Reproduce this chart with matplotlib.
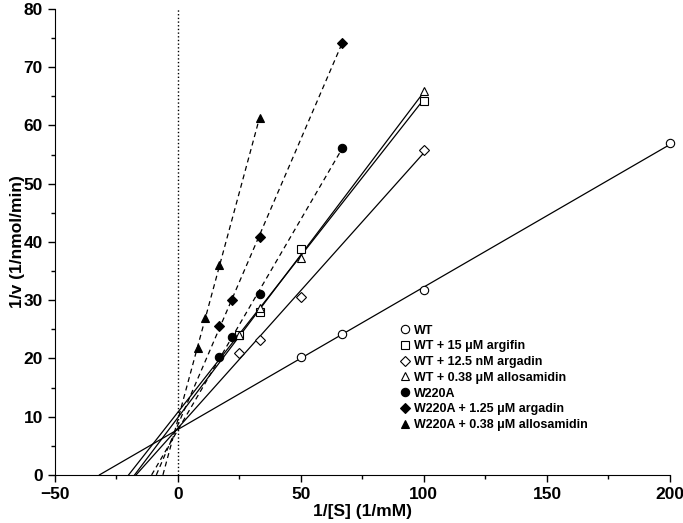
import numpy as np
import matplotlib
matplotlib.use("Agg")
import matplotlib.pyplot as plt

plt.rcParams['font.family'] = ['Liberation Sans', 'DejaVu Sans']
plt.rcParams['font.weight'] = 'bold'

# 1/[S] and 1/v values
wt_x = [50, 66.7, 100, 200]
wt_y = [20.3, 24.2, 31.7, 56.9]
argifin_x = [25, 33.3, 50, 100]
argifin_y = [24.0, 28.0, 38.7, 64.2]
argadin_x = [25, 33.3, 50, 100]
argadin_y = [21.0, 23.2, 30.6, 55.7]
allo_x = [25, 33.3, 50, 100]
allo_y = [24.0, 28.6, 37.2, 65.9]
w220a_x = [16.7, 22.2, 33.3, 66.7]
w220a_y = [20.3, 23.7, 31.0, 56.2]
w220a_arg_x = [16.7, 22.2, 33.3, 66.7]
w220a_arg_y = [25.5, 30.0, 40.8, 74.2]
w220a_allo_x = [8.33, 11.1, 16.7, 33.3]
w220a_allo_y = [21.8, 27.0, 36.0, 61.2]

series = [
    ("WT", wt_x, wt_y, 'o', 'white', '-'),
    ("WT + 15 μM argifin", argifin_x, argifin_y, 's', 'white', '-'),
    ("WT + 12.5 nM argadin", argadin_x, argadin_y, 'D', 'white', '-'),
    ("WT + 0.38 μM allosamidin", allo_x, allo_y, '^', 'white', '-'),
    ("W220A", w220a_x, w220a_y, 'o', 'black', '--'),
    ("W220A + 1.25 μM argadin", w220a_arg_x, w220a_arg_y, 'D', 'black', '--'),
    ("W220A + 0.38 μM allosamidin", w220a_allo_x, w220a_allo_y, '^', 'black', '--'),
]

fig = plt.figure(figsize=(6.83, 5.23), dpi=100)
ax = fig.add_axes([0.08, 0.092, 0.901, 0.891])

ax.plot([0, 0], [0, 80], color='black', linestyle=':', linewidth=1)

for name, xs, ys, mk, fc, ls in series:
    xs = np.array(xs)
    ys = np.array(ys)
    # regression line, drawn from the x-intercept to the last point
    slope, icpt = np.polyfit(xs, ys, 1)
    x0 = -icpt / slope
    lx = np.array([x0, xs.max()])
    ln, = ax.plot(lx, slope * lx + icpt, color='black', linewidth=0.9)
    if ls == '--':
        ln.set_dashes((4, 3))
    ms = 5 if mk == 'D' else 6
    ax.plot(xs, ys, linestyle='none', marker=mk, markersize=ms,
            markerfacecolor=fc, markeredgecolor='black', markeredgewidth=0.8,
            label=name, zorder=3, clip_on=False)

ax.set_xlim(-50, 200)
ax.set_ylim(0, 80)
ax.set_xticks(np.arange(-50, 201, 50))
ax.set_xticks(np.arange(-50, 201, 25), minor=True)
ax.set_yticks(np.arange(0, 81, 10))
ax.set_yticks(np.arange(0, 81, 5), minor=True)
ax.set_xticklabels(['\u221250', '0', '50', '100', '150', '200'])
ax.tick_params(which='major', direction='out', length=5, width=1, labelsize=12.5)
ax.tick_params(which='minor', direction='out', length=3, width=1)
ax.spines['top'].set_visible(False)
ax.spines['right'].set_visible(False)
ax.set_xlabel('1/[S] (1/mM)', fontsize=12.5, fontweight='bold', labelpad=2)
ax.set_ylabel('1/v (1/nmol/min)', fontsize=12.5, fontweight='bold')
ax.yaxis.set_label_coords(-0.048, 0.5)

ax.legend(loc='lower left', bbox_to_anchor=(0.545, 0.07), frameon=False,
          handlelength=0.6, handletextpad=0.4, labelspacing=0.3,
          prop={'weight': 'bold', 'size': 9})

fig.savefig('out.png', dpi=100)
